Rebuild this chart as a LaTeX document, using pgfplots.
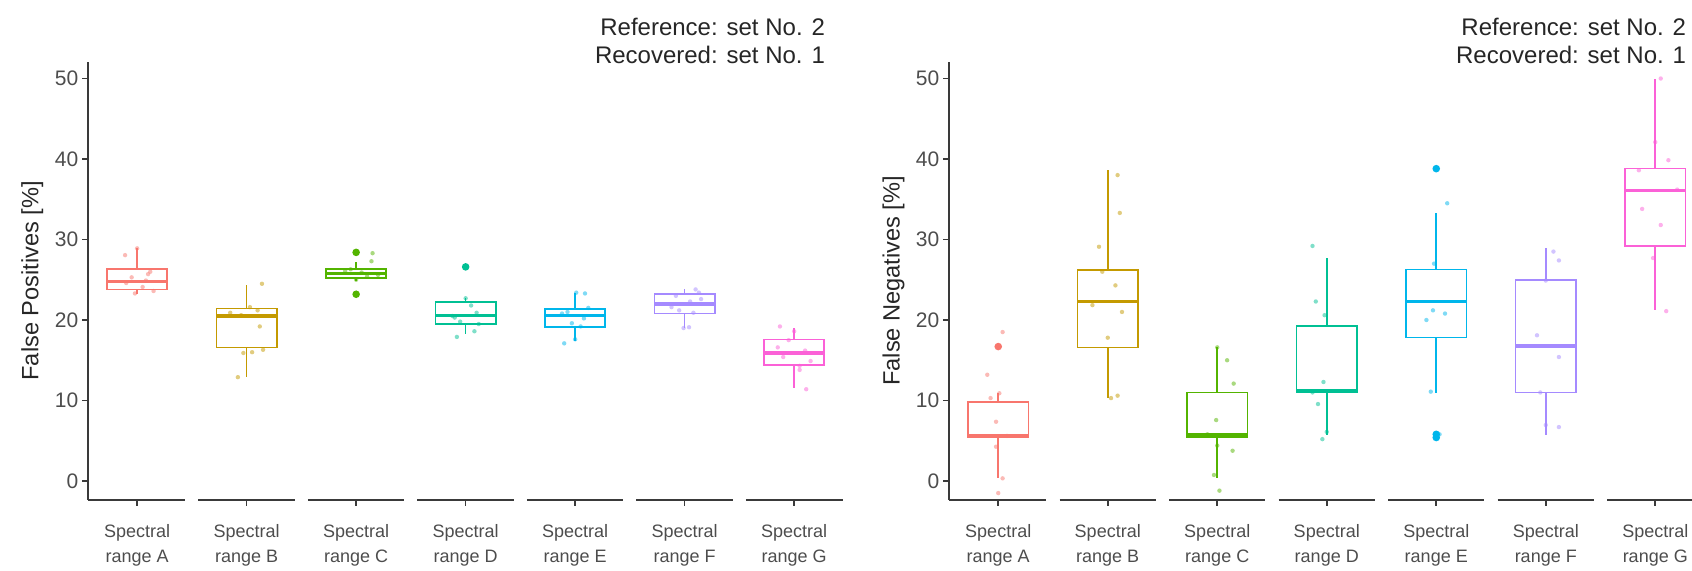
\documentclass[border=0pt]{standalone}
\usepackage{fontspec}
\setmainfont{Liberation Sans}
\usepackage{pgfplots}
\pgfplotsset{compat=1.18}
\usepgfplotslibrary{statistics}

% ggplot default hues, 7 groups
\definecolor{cA}{HTML}{F8766D}
\definecolor{cB}{HTML}{C49A00}
\definecolor{cC}{HTML}{53B400}
\definecolor{cD}{HTML}{00C094}
\definecolor{cE}{HTML}{00B6EB}
\definecolor{cF}{HTML}{A58AFF}
\definecolor{cG}{HTML}{FB61D7}
\definecolor{txtgray}{HTML}{4D4D4D}
\definecolor{axgray}{HTML}{3A3A3A}

\pgfplotsset{
  panel/.style={
    scale only axis, width=377.35pt, height=219.15pt,
    xmin=0.554, xmax=7.446, ymin=-2.36, ymax=52.09,
    axis lines=left, axis line style={-, axgray, line width=1pt},
    x axis line style={draw=none},
    xtick={1,...,7},
    xticklabels={{Spectral\\range A},{Spectral\\range B},{Spectral\\range C},{Spectral\\range D},{Spectral\\range E},{Spectral\\range F},{Spectral\\range G}},
    ytick={0,10,20,30,40,50},
    tick align=outside, major tick length=3pt,
    tick style={axgray, line width=0.8pt},
    xticklabel style={font=\fontsize{9}{12.5}\selectfont, align=center, text=txtgray, yshift=-5.5pt},
    yticklabel style={font=\fontsize{10.5}{12}\selectfont, text=txtgray, xshift=1.5pt},
    /pgf/number format/assume math mode=true,
    clip=false,
    boxplot/draw direction=y,
    every axis y label/.style={at={(axis description cs:0,0.5)}, xshift=-28pt, rotate=90, anchor=center, font=\fontsize{11.8}{14}\selectfont, text=black!85},
  },
  jit/.style={only marks, color=#1, mark=*, mark size=1.1pt, mark options={solid, draw opacity=0, fill=#1, fill opacity=0.5}, forget plot},
  outl/.style={only marks, color=#1, mark=*, mark size=1.9pt, mark options={solid, draw opacity=0, fill=#1}, forget plot},
  bx/.style={draw=#1, line width=0.8pt, solid, mark=none, forget plot,
    boxplot/every median/.style={line width=1.6pt}},
  seg/.style={axgray, line width=1.2pt, forget plot},
}

\newcommand{\segments}{%
  \addplot[seg] coordinates {(0.554,-2.36) (1.44,-2.36)};
  \addplot[seg] coordinates {(1.56,-2.36) (2.44,-2.36)};
  \addplot[seg] coordinates {(2.56,-2.36) (3.44,-2.36)};
  \addplot[seg] coordinates {(3.56,-2.36) (4.44,-2.36)};
  \addplot[seg] coordinates {(4.56,-2.36) (5.44,-2.36)};
  \addplot[seg] coordinates {(5.56,-2.36) (6.44,-2.36)};
  \addplot[seg] coordinates {(6.56,-2.36) (7.446,-2.36)};
}

\begin{document}
\begin{tikzpicture}

% ---------- left panel: false positives ----------
\begin{axis}[panel, at={(44.15pt,35.5pt)}, anchor=south west, ylabel={False Positives [\%]}]
\segments
\addplot[bx=cA, boxplot prepared={draw position=1, lower whisker=23.2, lower quartile=23.8, median=24.75, upper quartile=26.3, upper whisker=28.9, box extend=0.55, whisker extend=0}] coordinates {};
\addplot[bx=cB, boxplot prepared={draw position=2, lower whisker=12.95, lower quartile=16.6, median=20.5, upper quartile=21.44, upper whisker=24.3, box extend=0.55, whisker extend=0}] coordinates {};
\addplot[bx=cC, boxplot prepared={draw position=3, lower whisker=24.9, lower quartile=25.2, median=25.8, upper quartile=26.3, upper whisker=27.2, box extend=0.55, whisker extend=0}] coordinates {};
\addplot[bx=cD, boxplot prepared={draw position=4, lower whisker=18.2, lower quartile=19.5, median=20.6, upper quartile=22.2, upper whisker=22.7, box extend=0.55, whisker extend=0}] coordinates {};
\addplot[bx=cE, boxplot prepared={draw position=5, lower whisker=17.4, lower quartile=19.1, median=20.6, upper quartile=21.35, upper whisker=23.4, box extend=0.55, whisker extend=0}] coordinates {};
\addplot[bx=cF, boxplot prepared={draw position=6, lower whisker=19.0, lower quartile=20.8, median=22.0, upper quartile=23.2, upper whisker=23.8, box extend=0.55, whisker extend=0}] coordinates {};
\addplot[bx=cG, boxplot prepared={draw position=7, lower whisker=11.5, lower quartile=14.4, median=15.9, upper quartile=17.6, upper whisker=19.0, box extend=0.55, whisker extend=0}] coordinates {};

\addplot[outl=cC] coordinates {(3,28.4) (3,23.2)};
\addplot[outl=cD] coordinates {(4,26.6)};

\addplot[jit=cA] coordinates {(0.89,28.06) (1.0,28.9) (1.12,26.0) (0.95,25.3) (1.08,24.9) (0.9,24.6) (1.05,24.1) (1.15,23.6) (0.98,23.3) (1.1,25.7)};
\addplot[jit=cB] coordinates {(2.14,24.5) (1.92,12.9) (2.05,16.0) (1.97,15.9) (2.12,19.2) (1.85,20.9) (2.1,21.2) (1.95,20.6) (2.15,16.3) (2.03,21.6)};
\addplot[jit=cC] coordinates {(3.0,28.4) (3.15,28.3) (3.14,27.3) (3.0,23.2) (2.9,26.1) (3.05,25.9) (3.1,25.4) (2.95,26.3) (3.2,25.6) (3.0,25.0)};
\addplot[jit=cD] coordinates {(4.0,26.6) (3.92,17.9) (4.08,18.6) (4.0,22.7) (3.9,20.3) (4.1,20.9) (4.05,21.8) (3.95,19.8) (4.12,19.5) (3.88,20.5)};
\addplot[jit=cE] coordinates {(5.01,23.4) (5.09,23.3) (4.9,17.1) (5.0,17.6) (5.08,20.2) (4.93,21.0) (5.12,21.5) (4.97,19.6) (5.05,19.2) (4.88,20.8)};
\addplot[jit=cF] coordinates {(6.13,23.4) (6.1,23.8) (5.99,19.0) (6.04,19.1) (5.92,23.0) (6.05,22.3) (5.88,21.6) (6.15,22.6) (5.95,21.2) (6.08,20.9)};
\addplot[jit=cG] coordinates {(6.87,19.2) (7.11,11.4) (7.05,14.3) (6.95,17.5) (7.1,16.2) (6.9,15.4) (7.15,14.9) (7.0,18.6) (6.85,16.6) (7.05,13.8)};

\node[anchor=base east, font=\fontsize{12}{14}\selectfont, text=black!85, xshift=-5.5pt, yshift=13.25pt] at (rel axis cs:1,1) {Reference: set No. 2};
\node[anchor=base east, font=\fontsize{12}{14}\selectfont, text=black!85, xshift=-5.5pt, yshift=-0.95pt] at (rel axis cs:1,1) {Recovered: set No. 1};
\end{axis}

% ---------- right panel: false negatives ----------
\begin{axis}[panel, at={(474.7pt,35.5pt)}, anchor=south west, ylabel={False Negatives [\%]}]
\segments
\addplot[bx=cA, boxplot prepared={draw position=1, lower whisker=0.33, lower quartile=5.5, median=5.6, upper quartile=9.85, upper whisker=10.9, box extend=0.55, whisker extend=0}] coordinates {};
\addplot[bx=cB, boxplot prepared={draw position=2, lower whisker=10.3, lower quartile=16.6, median=22.27, upper quartile=26.2, upper whisker=38.6, box extend=0.55, whisker extend=0}] coordinates {};
\addplot[bx=cC, boxplot prepared={draw position=3, lower whisker=0.33, lower quartile=5.5, median=5.71, upper quartile=10.97, upper whisker=16.6, box extend=0.55, whisker extend=0}] coordinates {};
\addplot[bx=cD, boxplot prepared={draw position=4, lower whisker=5.71, lower quartile=10.97, median=11.2, upper quartile=19.25, upper whisker=27.65, box extend=0.55, whisker extend=0}] coordinates {};
\addplot[bx=cE, boxplot prepared={draw position=5, lower whisker=10.9, lower quartile=17.84, median=22.27, upper quartile=26.28, upper whisker=33.3, box extend=0.55, whisker extend=0}] coordinates {};
\addplot[bx=cF, boxplot prepared={draw position=6, lower whisker=5.7, lower quartile=10.97, median=16.76, upper quartile=24.96, upper whisker=28.9, box extend=0.55, whisker extend=0}] coordinates {};
\addplot[bx=cG, boxplot prepared={draw position=7, lower whisker=21.2, lower quartile=29.2, median=36.1, upper quartile=38.8, upper whisker=50.0, box extend=0.55, whisker extend=0}] coordinates {};

\addplot[outl=cA] coordinates {(1,16.7)};
\addplot[outl=cE] coordinates {(5,38.8) (5,5.4) (5,5.8)};

\addplot[jit=cA] coordinates {(1.04,18.5) (1.0,16.7) (0.9,13.2) (1.01,10.9) (0.98,7.36) (0.98,4.26) (1.04,0.33) (1.0,-1.5) (1.08,5.6) (0.93,10.3)};
\addplot[jit=cB] coordinates {(2.09,38.0) (2.11,33.3) (1.92,29.1) (2.07,24.3) (1.86,21.85) (2.13,21.0) (2.0,17.8) (2.03,10.3) (2.09,10.6) (1.95,26.0)};
\addplot[jit=cC] coordinates {(3.0,16.6) (3.09,15.0) (3.15,12.1) (2.99,7.57) (2.91,5.8) (3.14,3.76) (3.0,4.4) (2.97,0.75) (3.02,-1.2)};
\addplot[jit=cD] coordinates {(3.87,29.2) (3.9,22.3) (3.98,20.6) (3.97,12.3) (3.87,11.0) (3.92,9.56) (4.0,6.1) (3.96,5.2)};
\addplot[jit=cE] coordinates {(5.1,34.5) (5.0,38.8) (4.98,27.0) (4.91,20.0) (5.08,20.8) (4.97,21.2) (4.95,11.1) (5.0,5.4) (5.03,5.8)};
\addplot[jit=cF] coordinates {(6.07,28.5) (6.12,27.4) (5.92,18.1) (6.12,15.4) (6.0,6.95) (6.12,6.7) (6.0,24.9) (5.95,11.0)};
\addplot[jit=cG] coordinates {(7.05,50.0) (7.0,42.1) (7.12,39.85) (6.85,38.6) (7.2,36.2) (6.88,33.8) (7.05,31.8) (6.98,27.7) (7.1,21.1)};

\node[anchor=base east, font=\fontsize{12}{14}\selectfont, text=black!85, xshift=-5.5pt, yshift=13.25pt] at (rel axis cs:1,1) {Reference: set No. 2};
\node[anchor=base east, font=\fontsize{12}{14}\selectfont, text=black!85, xshift=-5.5pt, yshift=-0.95pt] at (rel axis cs:1,1) {Recovered: set No. 1};
\end{axis}

\pgfresetboundingbox
\useasboundingbox (0,0) rectangle (846pt,285.5pt);
\end{tikzpicture}
\end{document}
